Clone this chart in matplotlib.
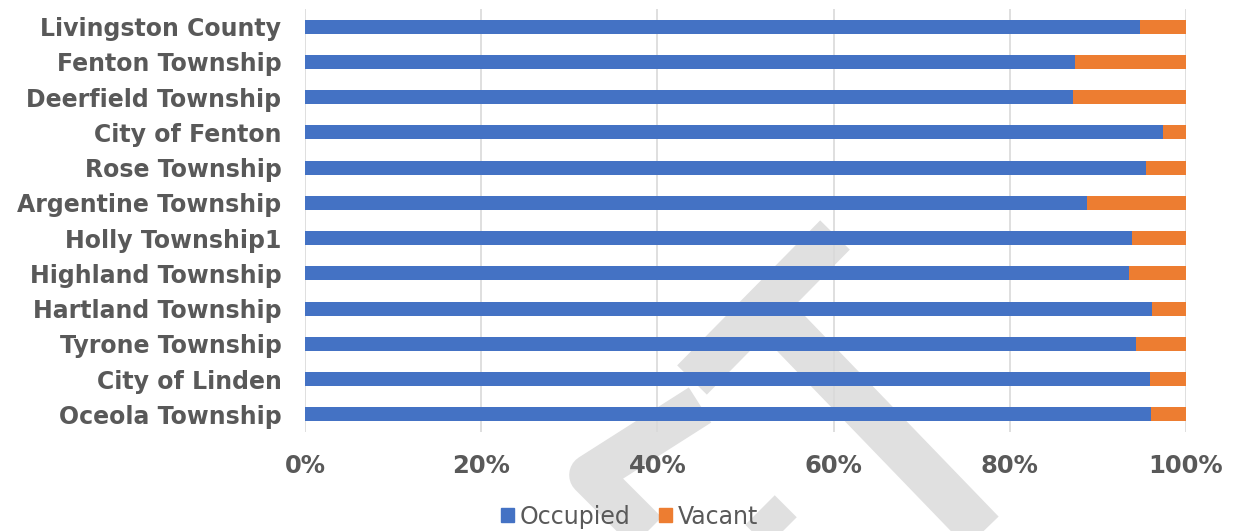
import matplotlib
matplotlib.use("Agg")
import numpy as np
from matplotlib import pyplot as plt
from matplotlib.lines import Line2D
from matplotlib.patches import Patch

plt.rcParams["font.family"] = ["DejaVu Sans"]

# occupancy share by community (percent) top to bottom
places = ["Livingston County", "Fenton Township", "Deerfield Township", "City of Fenton",
          "Rose Township", "Argentine Township", "Holly Township1", "Highland Township",
          "Hartland Township", "Tyrone Township", "City of Linden", "Oceola Township"]
occupied = [94.8, 87.4, 87.2, 97.4, 95.4, 88.8, 93.9, 93.5, 96.1, 94.3, 95.9, 96.0]
vacant = [100 - v for v in occupied]

ticks = [0, 20, 40, 60, 80, 100]
tick_labels = ["0%", "20%", "40%", "60%", "80%", "100%"]

blue = "#4472C4"
orange = "#ED7D31"
grey_text = "#595959"

fig = plt.figure(figsize=(12.37, 5.31), dpi=100)
ax = fig.add_axes([0.2466, 0.1864, 0.7122, 0.7966])
ax.patch.set_visible(False)

# faint watermark behind the chart
W, H = 1237.0, 531.0
def wm(xs, ys, w):
    fig.add_artist(Line2D([x / W for x in xs], [1 - y / H for y in ys],
                          transform=fig.transFigure, color="#e0e0e0", lw=w,
                          solid_capstyle="butt", solid_joinstyle="round", zorder=-1))
wm([835, 692], [235, 380], 30)
wm([778, 1000], [320, 550], 32)
wm([700, 590, 680], [405, 475, 565], 30)
wm([760, 820], [510, 570], 30)

y = np.arange(len(places))
ax.barh(y, occupied, height=0.4, color=blue, label="Occupied", zorder=3)
ax.barh(y, vacant, left=occupied, height=0.4, color=orange, label="Vacant", zorder=3)

ax.set_xlim(0, 100)
ax.set_ylim(len(places) - 0.5, -0.5)
ax.set_xticks(ticks)
ax.set_xticklabels(tick_labels)
ax.set_yticks(y)
ax.set_yticklabels(places)
ax.grid(axis="x", color="#d9d9d9", lw=1.2, zorder=0)
for s in ax.spines.values():
    s.set_visible(False)
ax.tick_params(axis="both", length=0)
ax.tick_params(axis="y", pad=17, labelsize=17, labelcolor=grey_text)
ax.tick_params(axis="x", pad=16, labelsize=17.5, labelcolor=grey_text)
for t in ax.get_yticklabels() + ax.get_xticklabels():
    t.set_fontweight("bold")

handles = [Patch(color=blue, label="Occupied"), Patch(color=orange, label="Vacant")]
leg = fig.legend(handles=handles, loc="center", bbox_to_anchor=(0.509, 0.027), ncol=2,
                 frameon=False, fontsize=17, handlelength=0.55, handleheight=0.55,
                 handletextpad=0.25, columnspacing=1.2)
for t in leg.get_texts():
    t.set_color(grey_text)

plt.savefig("out.png", dpi=100)
